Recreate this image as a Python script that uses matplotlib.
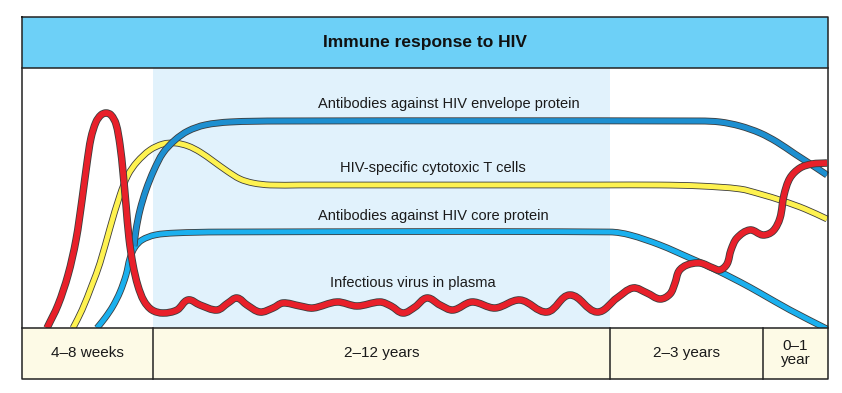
import matplotlib
matplotlib.use("Agg")
import matplotlib.pyplot as plt
import matplotlib.patches as mpatches
import matplotlib.patheffects as pe
from matplotlib.path import Path
import numpy as np

# Schematic curves in pixel units (x right, y down)
red_x = [47, 58, 68, 76, 82, 87, 91, 96, 101, 106, 111, 116, 120, 123, 126, 129, 133, 138, 144, 152, 163, 177,
         188, 200, 217, 228, 237, 247, 260, 273, 283, 300, 313, 337, 357, 380, 391, 403, 415, 427, 440,
         453, 472, 495, 520, 547, 570, 597, 617, 633, 647, 660, 670, 675, 679, 687, 700, 713, 720, 727,
         731, 737, 750, 763, 773, 780, 784, 790, 800, 812, 827]
red_y = [328, 305, 275, 240, 200, 163, 138, 122, 115, 113, 115, 124, 145, 172, 205, 238, 265, 286, 301, 310, 313, 310,
         300, 305, 310, 303, 298, 305, 312, 308, 303, 306, 308, 302, 306, 302, 306, 313, 307, 298, 305,
         310, 302, 308, 300, 312, 295, 312, 298, 288, 293, 299, 294, 283, 271, 265, 263, 268, 270, 264,
         250, 238, 230, 235, 231, 218, 195, 178, 168, 164, 163]

yellow_x = [73, 82, 92, 100, 110, 120, 128, 137, 150, 163, 175, 188, 200, 213, 227, 240, 253, 270, 300,
            600, 660, 700, 740, 760, 783, 805, 827]
yellow_y = [328, 310, 285, 263, 228, 195, 175, 162, 150, 144, 143, 146, 152, 161, 171, 179, 183, 185, 185,
            185, 185, 186, 189, 194, 201, 209, 219]

envelope_x = [134, 136, 140, 146, 154, 163, 175, 188, 205, 230, 280, 700, 720, 740, 760, 777, 795, 812, 827]
envelope_y = [246, 230, 210, 190, 170, 153, 140, 131, 125, 122, 121, 121, 122, 126, 133, 142, 154, 165, 175]

core_x = [97, 105, 113, 120, 126, 130, 135, 142, 155, 175, 220, 610, 630, 660, 690, 710, 740, 760, 790, 827]
core_y = [328, 318, 306, 292, 275, 258, 247, 240, 235, 233, 232, 232, 235, 245, 258, 267, 282, 293, 310, 329]

curve_labels = ["Antibodies against HIV envelope protein", "HIV-specific cytotoxic T cells",
                "Antibodies against HIV core protein", "Infectious virus in plasma"]
curve_label_x = [449, 433, 433, 413]
curve_label_y = [104, 168, 216, 283]

period_labels = ["4\u20138 weeks", "2\u201312 years", "2\u20133 years", "0\u20131\nyear"]
period_edges = [22, 153, 610, 763, 828]

title = "Immune response to HIV"

FONT = ["Liberation Sans", "DejaVu Sans"]


def smooth_path(xs, ys):
    """Smooth Bezier path through the points; handles follow the local direction."""
    p = np.column_stack([xs, ys]).astype(float)
    n = len(p)
    tang = np.zeros_like(p)
    for i in range(n):
        a = p[max(i - 1, 0)]
        b = p[min(i + 1, n - 1)]
        d = b - a
        tang[i] = d / (np.hypot(*d) or 1.0)
    verts = [p[0]]
    codes = [Path.MOVETO]
    for i in range(n - 1):
        seg = np.hypot(*(p[i + 1] - p[i])) / 3
        verts += [p[i] + tang[i] * seg, p[i + 1] - tang[i + 1] * seg, p[i + 1]]
        codes += [Path.CURVE4] * 3
    return Path(verts, codes)


def draw_curve(ax, xs, ys, color, lw, z):
    patch = mpatches.PathPatch(smooth_path(xs, ys), fill=False, ec=color, lw=lw,
                               capstyle="butt", joinstyle="round", zorder=z)
    patch.set_path_effects([pe.Stroke(linewidth=lw + 1.2, foreground="#3c3c3c"), pe.Normal()])
    ax.add_patch(patch)


fig = plt.figure(figsize=(8.42, 3.93), dpi=100)
ax = fig.add_axes([0, 0, 1, 1])
ax.set_xlim(0, 842)
ax.set_ylim(393, 0)
ax.axis("off")

left, right = period_edges[0], period_edges[-1]
top, band_bot, plot_bot, bottom = 17, 68, 328, 379

# backgrounds
ax.add_patch(mpatches.Rectangle((left, top), right - left, band_bot - top, fc="#6dd0f7", ec="none", zorder=0))
ax.add_patch(mpatches.Rectangle((period_edges[1], band_bot), period_edges[2] - period_edges[1],
                                plot_bot - band_bot, fc="#e1f2fc", ec="none", zorder=0))
ax.add_patch(mpatches.Rectangle((left, plot_bot), right - left, bottom - plot_bot, fc="#fdfae6", ec="none", zorder=5))

# curves
draw_curve(ax, yellow_x, yellow_y, "#fef250", 3.6, 2)
draw_curve(ax, core_x, core_y, "#1bb0ee", 3.6, 3)
draw_curve(ax, envelope_x, envelope_y, "#1d8fd0", 3.8, 3.5)
draw_curve(ax, red_x, red_y, "#e8202a", 4.2, 4)

# frame lines
k = dict(color="#222222", lw=1.1, zorder=6)
ax.plot([left, right, right, left, left], [top, top, bottom, bottom, top], **k)
ax.plot([left, right], [band_bot, band_bot], **k)
ax.plot([left, right], [plot_bot, plot_bot], **k)
for xe in period_edges[1:-1]:
    ax.plot([xe, xe], [plot_bot, bottom], **k)

# texts
ax.text((left + right) / 2, 43, title, ha="center", va="center", fontsize=12.5,
        fontweight="bold", family=FONT, color="#111111", zorder=7)
for lab, x, y in zip(curve_labels, curve_label_x, curve_label_y):
    ax.text(x, y, lab, ha="center", va="center", fontsize=10.5, family=FONT, color="#1a1a1a", zorder=7)
for i, lab in enumerate(period_labels):
    xc = (period_edges[i] + period_edges[i + 1]) / 2
    ax.text(xc, 353, lab, ha="center", va="center", fontsize=11, family=FONT,
            color="#1a1a1a", linespacing=0.95, zorder=7)

fig.savefig("out.png", dpi=100, facecolor="white")
